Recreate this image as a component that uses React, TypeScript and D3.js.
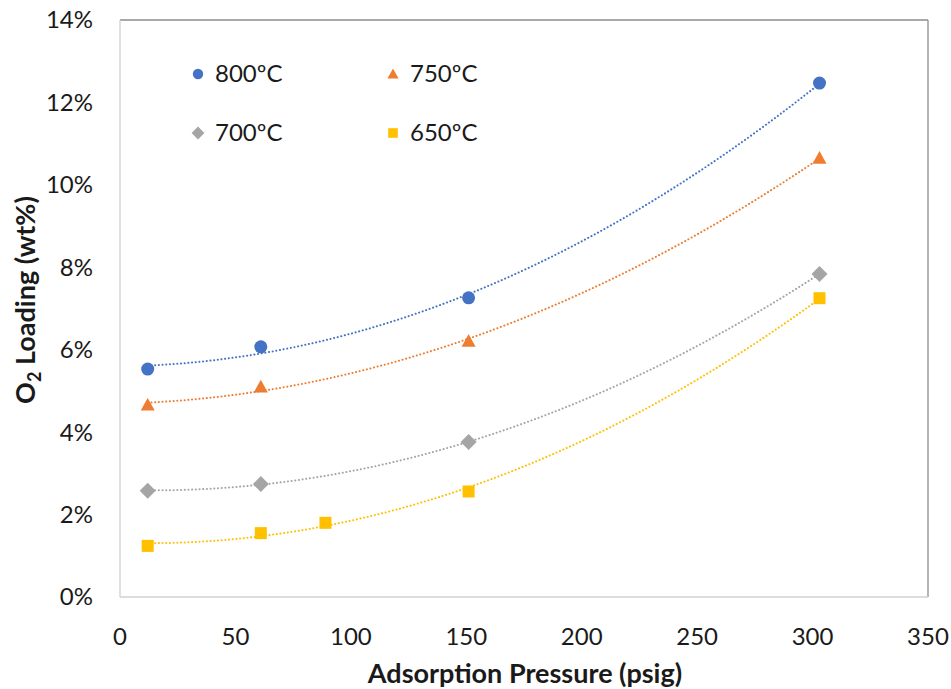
import React from "react";
import * as d3 from "d3";

const pressure800 = [12, 61, 151, 303];
const load800 = [5.53, 6.07, 7.26, 12.47];
const pressure750 = [12, 61, 151, 303];
const load750 = [4.66, 5.1, 6.21, 10.65];
const pressure700 = [12, 61, 151, 303];
const load700 = [2.58, 2.74, 3.76, 7.84];
const pressure650 = [12, 61, 89, 151, 303];
const load650 = [1.24, 1.55, 1.8, 2.56, 7.25];

const seriesNames = ["800ºC", "750ºC", "700ºC", "650ºC"];
const seriesColors = ["#4472C4", "#ED7D31", "#A5A5A5", "#FFC000"];
const seriesShapes = ["circle", "triangle", "diamond", "square"];
const xTicks = [0, 50, 100, 150, 200, 250, 300, 350];
const yTicks = [0, 2, 4, 6, 8, 10, 12, 14];

const W = 951, H = 689;
const M = { left: 120, right: 928, top: 20, bottom: 597 };

function quadFit(xs: number[], ys: number[]) {
  let s0 = 0, s1 = 0, s2 = 0, s3 = 0, s4 = 0, t0 = 0, t1 = 0, t2 = 0;
  xs.forEach((x, i) => {
    const y = ys[i];
    s0 += 1; s1 += x; s2 += x * x; s3 += x ** 3; s4 += x ** 4;
    t0 += y; t1 += x * y; t2 += x * x * y;
  });
  const A = [[s0, s1, s2, t0], [s1, s2, s3, t1], [s2, s3, s4, t2]];
  for (let i = 0; i < 3; i++) {
    for (let k = i + 1; k < 3; k++) {
      const f = A[k][i] / A[i][i];
      for (let j = i; j < 4; j++) A[k][j] -= f * A[i][j];
    }
  }
  const r = [0, 0, 0];
  for (let i = 2; i >= 0; i--) {
    let s = A[i][3];
    for (let j = i + 1; j < 3; j++) s -= A[i][j] * r[j];
    r[i] = s / A[i][i];
  }
  return (x: number) => r[0] + r[1] * x + r[2] * x * x;
}

function Marker({ shape, x, y, color, scale = 1 }: any) {
  if (shape === "circle") return <circle cx={x} cy={y} r={6.5 * scale} fill={color} />;
  if (shape === "square") {
    const s = 12 * scale;
    return <rect x={x - s / 2} y={y - s / 2} width={s} height={s} fill={color} />;
  }
  if (shape === "triangle") {
    const s = 7 * scale;
    return <path d={`M${x},${y - s} L${x + s},${y + s * 0.8} L${x - s},${y + s * 0.8} Z`} fill={color} />;
  }
  const s = 8 * scale;
  return <path d={`M${x},${y - s} L${x + s},${y} L${x},${y + s} L${x - s},${y} Z`} fill={color} />;
}

export default function App() {
  const x = d3.scaleLinear().domain([0, 350]).range([M.left, M.right]);
  const y = d3.scaleLinear().domain([0, 14]).range([M.bottom, M.top]);
  const data = [
    [pressure800, load800],
    [pressure750, load750],
    [pressure700, load700],
    [pressure650, load650],
  ];
  const font = "Lato, 'Open Sans', sans-serif";
  const line = d3.line<[number, number]>().x((d) => x(d[0])).y((d) => y(d[1]));
  const legendPos = [
    [198, 74],
    [393, 74],
    [198, 133],
    [393, 133],
  ];

  return (
    <svg width={W} height={H} style={{ position: "absolute", left: 0, top: 0, background: "#fff" }} fontFamily={font}>
      <rect x={0} y={0} width={W} height={H} fill="#fff" />
      <line x1={M.left} x2={M.right} y1={M.top} y2={M.top} stroke="#8c8c8c" strokeWidth={1.3} />
      <line x1={M.right} x2={M.right} y1={M.top} y2={M.bottom} stroke="#8c8c8c" strokeWidth={1.3} />
      <line x1={M.left} x2={M.left} y1={M.top} y2={M.bottom} stroke="#d0d0d0" strokeWidth={1.3} />
      <line x1={M.left} x2={M.right} y1={M.bottom} y2={M.bottom} stroke="#d0d0d0" strokeWidth={1.3} />

      {yTicks.map((t) => (
        <text key={t} x={93} y={y(t)} dy="0.35em" textAnchor="end" fontSize={24} fill="#1a1a1a">{t}%</text>
      ))}
      {xTicks.map((t) => (
        <text key={t} x={x(t)} y={637} dy="0.35em" textAnchor="middle" fontSize={24} fill="#1a1a1a">{t}</text>
      ))}

      {data.map(([xs, ys], i) => {
        const f = quadFit(xs, ys);
        const x0 = d3.min(xs)!, x1 = d3.max(xs)!;
        const pts: [number, number][] = d3.range(0, 101).map((k) => {
          const xv = x0 + ((x1 - x0) * k) / 100;
          return [xv, f(xv)];
        });
        return (
          <path key={"t" + i} d={line(pts)!} fill="none" stroke={seriesColors[i]} strokeWidth={2}
            strokeDasharray="0.1 3.6" strokeLinecap="round" />
        );
      })}
      {data.map(([xs, ys], i) =>
        xs.map((xv, j) => (
          <Marker key={i + "-" + j} shape={seriesShapes[i]} x={x(xv)} y={y(ys[j])} color={seriesColors[i]} />
        ))
      )}

      {seriesNames.map((n, i) => (
        <g key={n}>
          <Marker shape={seriesShapes[i]} x={legendPos[i][0]} y={legendPos[i][1]} color={seriesColors[i]} scale={0.8} />
          <text x={legendPos[i][0] + 17} y={legendPos[i][1]} dy="0.35em" fontSize={24} fill="#1a1a1a">{n}</text>
        </g>
      ))}

      <text x={525} y={674} dy="0.35em" textAnchor="middle" fontSize={27} fontWeight="bold" fill="#1a1a1a">
        Adsorption Pressure (psig)
      </text>
      <text transform={`translate(26,300) rotate(-90)`} textAnchor="middle" dy="0.35em"
        fontSize={27} fontWeight="bold" fill="#1a1a1a">
        O<tspan fontSize={18} dy="6">2</tspan><tspan dy="-6"> Loading (wt%)</tspan>
      </text>
    </svg>
  );
}
